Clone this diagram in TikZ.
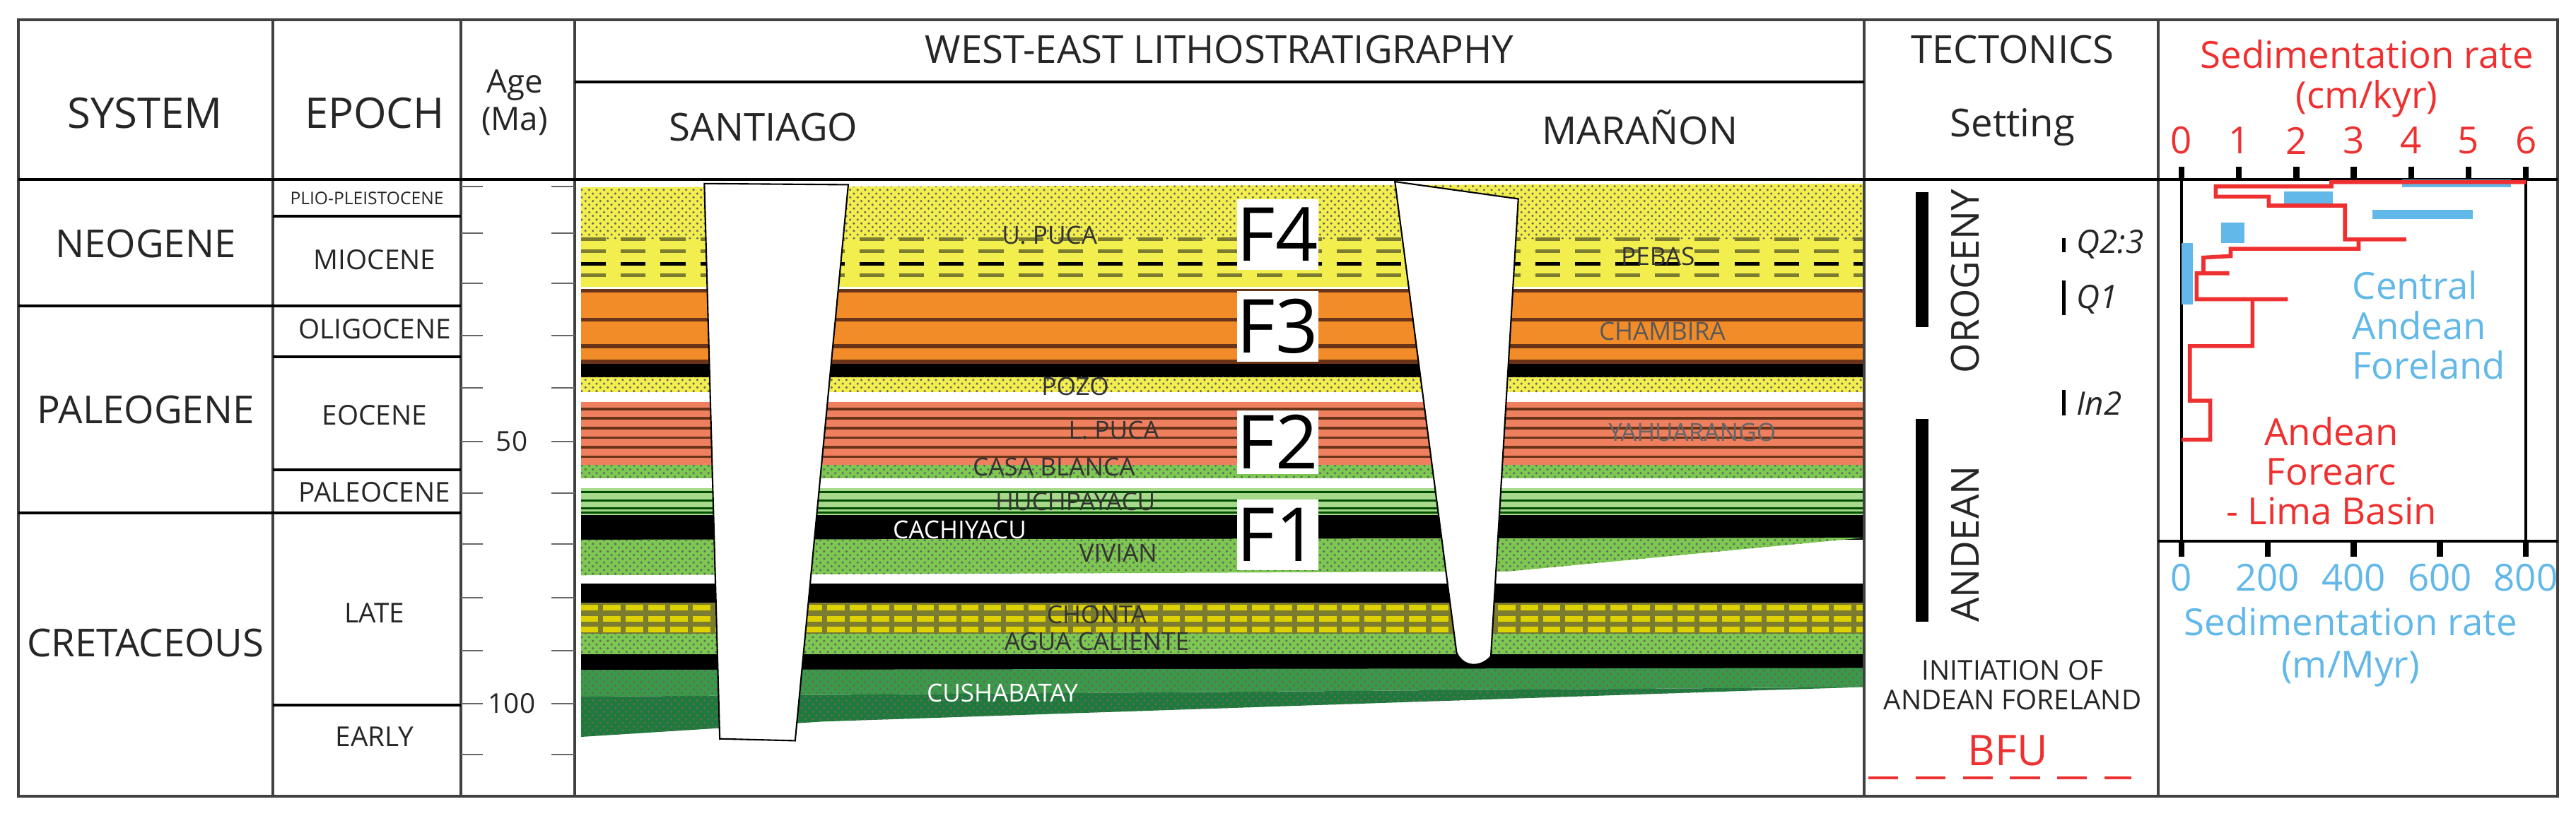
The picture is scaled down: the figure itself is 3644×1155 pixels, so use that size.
\documentclass[tikz,border=0pt]{standalone}
\usepackage{fontspec}
\setmainfont{Open Sans}
\usepackage{tikz}
\usetikzlibrary{patterns,positioning}
\definecolor{sandYellow}{HTML}{F2EE4E}
\definecolor{redOrange}{HTML}{F28C28}
\definecolor{salmonRed}{HTML}{EE8060}
\definecolor{shaleBrown}{HTML}{6A3418}
\definecolor{midGreen}{HTML}{7CC850}
\definecolor{paleGreen}{HTML}{A6D98A}
\definecolor{oliveBrick}{HTML}{7C7C30}
\definecolor{deepGreen}{HTML}{3A9A48}
\definecolor{darkGreen}{HTML}{1E7A3A}
\definecolor{rateRed}{HTML}{EE3030}
\definecolor{rateBlue}{HTML}{62B8E8}
\begin{document}
\begin{tikzpicture}[x=0.01cm, y=-0.01cm,
  frame/.style={draw=black!75, line width=1.4pt},
  rule/.style={draw=black, line width=0.9pt},
  agetick/.style={draw=black!60, line width=0.8pt},
  head/.style={font=\fontsize{17}{18}\selectfont, text=black!85},
  subhead/.style={font=\fontsize{15.5}{17}\selectfont, text=black!85},
  epoch/.style={font=\fontsize{11}{12}\selectfont, text=black!85},
  fmname/.style={font=\fontsize{10}{11}\selectfont, text=black!80, inner sep=1pt},
  fbox/.style={fill=white, font=\fontsize{30}{30}\selectfont, inner sep=0pt},
  well/.style={fill=white, draw=black, line width=0.6pt},
  dotfill/.style={pattern=crosshatch dots, pattern color=black!60},
  redtxt/.style={text=rateRed, font=\fontsize{15}{16}\selectfont},
  bluetxt/.style={text=rateBlue, font=\fontsize{15}{16}\selectfont},
]
\useasboundingbox (0,0) rectangle (3644,1155);

% lithology bands, in the column's own frame
\begin{scope}[shift={(800,230)}, xscale=1.212, yscale=0.542]
  \fill[sandYellow] (18,65) -- (1515,55) -- (1515,325) -- (18,325) -- cycle;
  \fill[dotfill] (18,65) -- (1515,55) -- (1515,200) -- (18,200) -- cycle;
  \foreach \y/\c in {200/oliveBrick,232/oliveBrick,265/black,295/oliveBrick}
    \draw[\c, line width=1.4pt, dash pattern=on 10pt off 6pt] (18,\y) -- (1515,\y);
  \fill[redOrange] (18,330) rectangle (1515,525);
  \foreach \y in {330,405,475,515}
    \fill[shaleBrown] (18,\y) rectangle (1515,\y+10);
  \fill[black] (18,525) rectangle (1515,560);
  \fill[sandYellow] (18,560) rectangle (1515,600);
  \fill[dotfill] (18,560) rectangle (1515,600);
  \fill[salmonRed] (18,625) rectangle (1515,790);
  \foreach \y in {640,665,690,715,740,765}
    \fill[shaleBrown] (18,\y) rectangle (1515,\y+7);
  \fill[midGreen] (18,790) rectangle (1515,825);
  \fill[dotfill] (18,790) rectangle (1515,825);
  \fill[paleGreen] (18,850) rectangle (1515,920);
  \foreach \y in {858,880,900,912}
    \fill[black!70!green] (18,\y) rectangle (1515,\y+5);
  \fill[black] (18,920) rectangle (1515,985);
  \fill[midGreen] (18,985) -- (1515,980) -- (1100,1068) -- (18,1078) -- cycle;
  \fill[dotfill] (18,985) -- (1515,980) -- (1100,1068) -- (18,1078) -- cycle;
  \fill[black] (18,1100) rectangle (1515,1150);
  \fill[oliveBrick] (18,1150) rectangle (1515,1230);
  \foreach \y in {1163,1192,1220}
    \draw[yellow!70!olive, line width=2.2pt, dash pattern=on 7pt off 2pt] (18,\y) -- (1515,\y);
  \fill[midGreen] (18,1230) rectangle (1515,1285);
  \fill[dotfill] (18,1230) rectangle (1515,1285);
  \fill[black] (18,1285) rectangle (1515,1325);
  \fill[deepGreen] (18,1325) -- (1515,1320) -- (1515,1370) -- (18,1395) -- cycle;
  \fill[darkGreen] (18,1395) -- (1515,1370) -- (1400,1378) -- (300,1460) -- (18,1500) -- cycle;
  \fill[dotfill] (18,1325) -- (1515,1320) -- (1515,1370) -- (300,1460) -- (18,1500) -- cycle;
  % wells
  \filldraw[well] (162,55) -- (180,1505) -- (268,1510) -- (330,58) -- cycle;
  \filldraw[well] (968,50) -- (1040,1280) .. controls (1048,1320) and (1068,1320) .. (1080,1290) -- (1112,95) -- cycle;
  % formation names
  \node[fmname] (uPuca) at (565,190) {U. PUCA};
  \node[fmname] (pebas) at (1275,245) {PEBAS};
  \node[fmname, text=black!65] (chambira) at (1280,440) {CHAMBIRA};
  \node[fmname] (pozo) at (595,585) {POZO};
  \node[fmname] (lPuca) at (640,700) {L. PUCA};
  \node[fmname, text=black!60] (yahuarango) at (1315,705) {YAHUARANGO};
  \node[fmname] (casaBlanca) at (570,795) {CASA BLANCA};
  \node[fmname] (huchpayacu) at (595,885) {HUCHPAYACU};
  \node[fmname, text=white] (cachiyacu) at (460,960) {CACHIYACU};
  \node[fmname] (vivian) at (645,1020) {VIVIAN};
  \node[fmname] (chonta) at (620,1180) {CHONTA};
  \node[fmname] (aguaCaliente) at (620,1250) {AGUA CALIENTE};
  \node[fmname, text=white] (cushabatay) at (510,1385) {CUSHABATAY};
  % flexural stages
  \node[fbox, minimum width=1.0cm, minimum height=1.0cm] (fF4) at (831,188) {F4};
  \node[fbox, minimum width=1.0cm, minimum height=1.0cm] (fF3) at (831,428) {F3};
  \node[fbox, minimum width=1.0cm, minimum height=0.9cm] (fF2) at (831,730) {F2};
  \node[fbox, minimum width=1.0cm, minimum height=1.0cm] (fF1) at (831,972) {F1};
\end{scope}

% table frame and rules
\draw[frame] (26,28) rectangle (3618,1127);
\foreach \x in {386,652,813,2637,3053}
  \draw[frame] (\x,28) -- (\x,1127);
\draw[rule] (26,254) -- (3618,254);
\draw[rule] (813,116) -- (2637,116);
\draw[rule] (26,433) -- (386,433);
\draw[rule] (26,726) -- (652,726);
\foreach \y in {306,433,505,665,726,998}
  \draw[rule] (386,\y) -- (652,\y);
\draw[rule] (3053,766) -- (3618,766);

% age scale
\foreach \y in {264,330,401,475,549,625,698,770,846,921,996,1068} {
  \draw[agetick] (652,\y) -- (683,\y);
  \draw[agetick] (780,\y) -- (813,\y);
}
\node[epoch] (age50) at (724,625) {50};
\node[epoch] (age100) at (724,996) {100};

% headers
\node[head] (hSystem) at (205,160) {SYSTEM};
\node[head] (hEpoch) at (530,160) {EPOCH};
\node[epoch, font=\fontsize{13}{15}\selectfont, align=center] (hAge) at (728,145) {Age\\(Ma)};
\node[subhead] (hLitho) at (1725,70) {WEST-EAST LITHOSTRATIGRAPHY};
\node[subhead] (hSantiago) at (1080,180) {SANTIAGO};
\node[subhead] (hMaranon) at (2320,180) {MARAÑON};
\node[subhead] (hTecto) at (2847,70) {TECTONICS};
\node[subhead] (hSetting) at (2847,180) {Setting};

% systems and epochs
\node[subhead] (sNeo) at (206,345) {NEOGENE};
\node[subhead] (sPaleo) at (206,580) {PALEOGENE};
\node[subhead] (sCret) at (206,910) {CRETACEOUS};
\node[epoch, font=\fontsize{7}{8}\selectfont] (ePlio) at (519,281) {PLIO-PLEISTOCENE};
\node[epoch] (eMio) at (530,368) {MIOCENE};
\node[epoch] (eOli) at (530,466) {OLIGOCENE};
\node[epoch] (eEo) at (530,588) {EOCENE};
\node[epoch] (ePaleo) at (530,697) {PALEOCENE};
\node[epoch] (eLate) at (530,868) {LATE};
\node[epoch] (eEarly) at (530,1043) {EARLY};

% tectonic setting
\fill[black] (2710,272) rectangle (2728,463);
\fill[black] (2710,593) rectangle (2728,880);
\node[subhead, rotate=90] (tOrogeny) at (2780,398) {OROGENY};
\node[subhead, rotate=90] (tAndean) at (2780,770) {ANDEAN};
\fill[black] (2917,337) rectangle (2922,357);
\fill[black] (2917,397) rectangle (2922,446);
\fill[black] (2917,552) rectangle (2922,588);
\node[epoch, font=\fontsize{13}{14}\selectfont\itshape, anchor=west] (tQ23) at (2925,346) {Q2:3};
\node[epoch, font=\fontsize{13}{14}\selectfont\itshape, anchor=west] (tQ1) at (2925,424) {Q1};
\node[epoch, font=\fontsize{13}{14}\selectfont\itshape, anchor=west] (tIn2) at (2925,571) {In2};
\node[epoch, align=center] (tInit) at (2847,970) {INITIATION OF\\ANDEAN FORELAND};
\node[redtxt, font=\fontsize{17}{18}\selectfont] (tBFU) at (2840,1062) {BFU};
\draw[rateRed, line width=1.2pt, dash pattern=on 12pt off 7pt] (2643,1101) -- (3015,1101);

% sedimentation rate panel
\draw[black, line width=1pt] (3086,254) -- (3086,766);
\draw[black, line width=1pt] (3573,254) -- (3573,766);
\foreach \i in {0,...,6} {
  \draw[black, line width=2.4pt] (3086+81.2*\i,236) -- (3086+81.2*\i,254);
  \node[redtxt] (topTick\i) at (3086+81.2*\i,199) {\i};
}
\foreach \v/\i in {0/0,200/1,400/2,600/3,800/4} {
  \draw[black, line width=2.4pt] (3086+121.75*\i,766) -- (3086+121.75*\i,788);
  \node[bluetxt] (botTick\i) at (3086+121.75*\i,818) {\v};
}
\node[redtxt] (topTitle) at (3348,77) {Sedimentation rate};
\node[redtxt] (topUnit) at (3348,140) {(cm/kyr)};
\node[bluetxt] (botTitle) at (3325,880) {Sedimentation rate};
\node[bluetxt] (botUnit) at (3325,947) {(m/Myr)};

\begin{scope}[shift={(3040,0)}, xscale=0.385, yscale=0.7366]
  \fill[rateBlue] (930,345) rectangle (1330,360);
  \fill[rateBlue] (495,368) rectangle (675,393);
  \fill[rateBlue] (820,403) rectangle (1190,421);
  \fill[rateBlue] (265,427) rectangle (350,467);
  \fill[rateBlue] (120,467) rectangle (160,585);
  \draw[rateRed, line width=1.6pt, line join=miter]
    (1385,350) -- (670,350) -- (670,358) -- (245,358) -- (245,378) -- (440,378)
    -- (440,395) -- (720,395) -- (720,460) -- (945,460) -- (770,460) -- (770,478)
    -- (300,478) -- (300,492) -- (200,495) -- (200,525) -- (295,525) -- (175,525)
    -- (175,575) -- (510,575) -- (380,575) -- (380,665) -- (150,665) -- (150,770)
    -- (225,770) -- (225,845) -- (120,845);
  \node[bluetxt, anchor=west, align=left] (centralAndean) at (715,625) {Central\\Andean\\Foreland};
  \node[redtxt, align=center] (andeanForearc) at (670,905) {Andean\\Forearc\\- Lima Basin};
\end{scope}
\end{tikzpicture}
\end{document}
